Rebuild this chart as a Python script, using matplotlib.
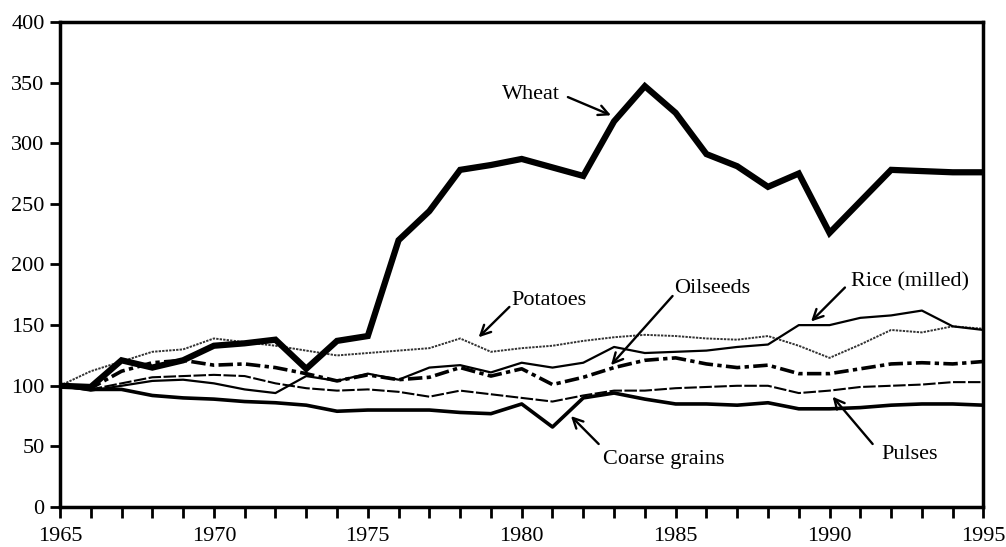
import matplotlib.pyplot as plt
from matplotlib.ticker import MultipleLocator

plt.rcParams["font.family"] = ["Liberation Serif", "DejaVu Serif"]

years = list(range(1965, 1996))

wheat = [100, 99, 121, 115, 121, 133, 135, 138, 114, 137, 141, 220, 244, 278, 282, 287,
         280, 273, 318, 347, 325, 291, 281, 264, 275, 226, 252, 278, 277, 276, 276]
potatoes = [100, 112, 120, 128, 130, 139, 136, 133, 129, 125, 127, 129, 131, 139, 128, 131,
            133, 137, 140, 142, 141, 139, 138, 141, 133, 123, 134, 146, 144, 149, 147]
rice = [100, 96, 100, 104, 105, 102, 97, 94, 108, 104, 110, 105, 115, 117, 111, 119,
        115, 119, 132, 127, 128, 129, 132, 134, 150, 150, 156, 158, 162, 149, 146]
oilseeds = [100, 98, 112, 119, 121, 117, 118, 115, 110, 104, 109, 105, 107, 115, 108, 114,
            101, 107, 115, 121, 123, 118, 115, 117, 110, 110, 114, 118, 119, 118, 120]
pulses = [100, 97, 102, 107, 108, 109, 108, 102, 98, 96, 97, 95, 91, 96, 93, 90,
          87, 92, 96, 96, 98, 99, 100, 100, 94, 96, 99, 100, 101, 103, 103]
coarse_grains = [100, 97, 97, 92, 90, 89, 87, 86, 84, 79, 80, 80, 80, 78, 77, 85,
                 66, 90, 94, 89, 85, 85, 84, 86, 81, 81, 82, 84, 85, 85, 84]


def label_with_arrow(ax, text, text_xy, tail, tip):
    ax.text(text_xy[0], text_xy[1], text, fontsize=16, ha="center", va="center")
    ax.annotate("", xy=tip, xytext=tail,
                arrowprops=dict(arrowstyle="->", lw=1.7, color="black",
                                mutation_scale=18, shrinkA=0, shrinkB=0))


fig = plt.figure(figsize=(10.06, 5.47), dpi=100)
ax = fig.add_axes([0.0596, 0.073, 0.918, 0.887])

ax.plot(years, potatoes, color="#333333", lw=1.4, linestyle=(0, (1.2, 0.6)))
ax.plot(years, pulses, color="black", lw=1.5, linestyle=(0, (6, 1.2)))
ax.plot(years, rice, color="black", lw=1.6)
ax.plot(years, oilseeds, color="black", lw=2.6, linestyle=(0, (4, 1.2, 1.2, 1.2)))
ax.plot(years, coarse_grains, color="black", lw=2.6)
ax.plot(years, wheat, color="black", lw=4.5, solid_joinstyle="miter")

label_with_arrow(ax, "Wheat", (1980.3, 340), (1981.5, 338), (1982.9, 323))
label_with_arrow(ax, "Potatoes", (1980.9, 170), (1979.6, 165), (1978.6, 140))
label_with_arrow(ax, "Oilseeds", (1986.2, 180), (1984.9, 174), (1982.9, 117))
label_with_arrow(ax, "Rice (milled)", (1992.6, 186), (1990.5, 181), (1989.4, 153))
label_with_arrow(ax, "Pulses", (1992.6, 43), (1991.4, 52), (1990.1, 91))
label_with_arrow(ax, "Coarse grains", (1984.6, 39), (1982.5, 52), (1981.6, 75))

ax.set_xlim(1965, 1995)
ax.set_ylim(0, 400)
ax.xaxis.set_major_locator(MultipleLocator(5))
ax.xaxis.set_minor_locator(MultipleLocator(1))
ax.yaxis.set_major_locator(MultipleLocator(50))
ax.tick_params(which="both", direction="out", length=8, width=2, labelsize=16)
ax.tick_params(axis="x", pad=6)
ax.tick_params(axis="y", length=7, pad=4)

for spine in ax.spines.values():
    spine.set_linewidth(2.5)

plt.savefig("out.png", dpi=100)
plt.close()
